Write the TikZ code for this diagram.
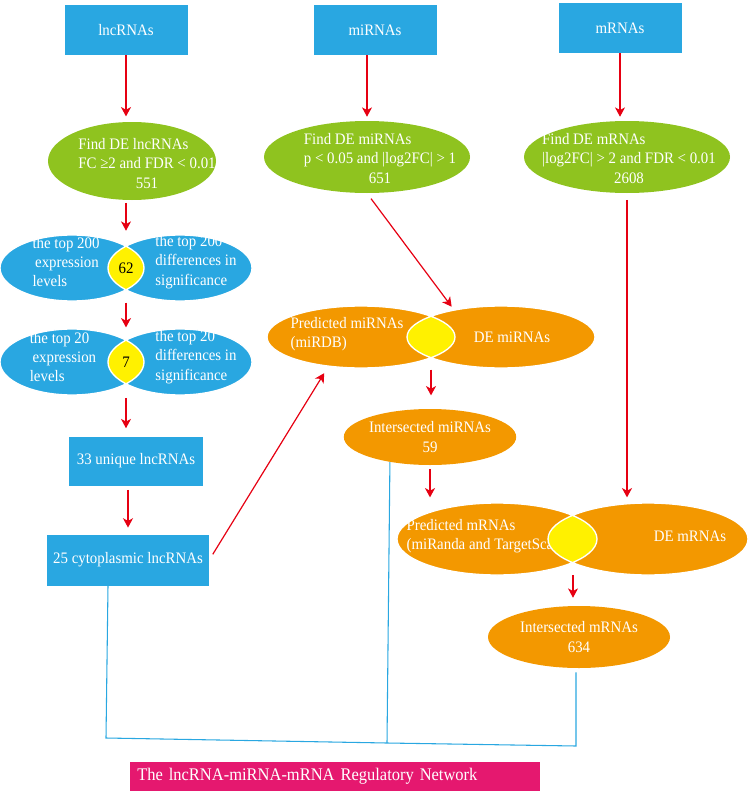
\documentclass[tikz,border=0pt]{standalone}
\usepackage{fontspec}
\setmainfont{Liberation Serif}[FakeStretch=0.93]
\usetikzlibrary{shapes.geometric,arrows.meta}

\definecolor{boxblue}{RGB}{41,167,225}
\definecolor{leafgreen}{RGB}{143,195,31}
\definecolor{venorange}{RGB}{243,152,0}
\definecolor{lensyel}{RGB}{255,241,0}
\definecolor{netpink}{RGB}{229,24,111}
\definecolor{arrowred}{RGB}{230,0,18}

\tikzset{
  every node/.style={font=\fontsize{12}{14.5}\selectfont},
  srcbox/.style={rectangle, fill=boxblue, text=white, minimum width=92.25pt, minimum height=37.5pt, inner sep=0pt},
  findell/.style={ellipse, fill=leafgreen, minimum width=154.5pt, minimum height=54pt, inner sep=0pt},
  wtext/.style={text=white, inner sep=0pt, align=left},
  halfblue/.style={ellipse, fill=boxblue, minimum width=108pt, minimum height=49.5pt, inner sep=0pt},
  halforange/.style={ellipse, fill=venorange, inner sep=0pt},
  arr/.style={draw=arrowred, line width=0.9pt, -{Stealth[length=7pt,width=7.5pt,inset=2pt]}},
  netline/.style={draw=boxblue, line width=0.8pt},
}

\begin{document}
\begin{tikzpicture}[x=0.75pt,y=-0.75pt]
    \useasboundingbox (0,0) rectangle (750,792);

    % sources
    \node[srcbox] (lnc) at (126,30) {lncRNAs};
    \node[srcbox] (mir) at (375,30) {miRNAs};
    \node[srcbox] (mrna) at (620,28) {mRNAs};

    % DE filters
    \node[findell, minimum width=126pt, minimum height=58.5pt] (flnc) at (132,161) {};
    \node[wtext] (tflnc) at (147,165) {\begin{tabular}{@{}l@{}}Find DE lncRNAs\\FC ≥2 and FDR < 0.01\\\multicolumn{1}{@{}c@{}}{551}\end{tabular}};
    \node[findell] (fmir) at (367,157) {};
    \node[wtext] (tfmir) at (380,160) {\begin{tabular}{@{}l@{}}Find DE miRNAs\\p < 0.05 and |log2FC| > 1\\\multicolumn{1}{@{}c@{}}{651}\end{tabular}};
    \node[findell] (fmrna) at (627,157) {};
    \node[wtext] (tfmrna) at (629,160) {\begin{tabular}{@{}l@{}}Find DE mRNAs\\|log2FC| > 2 and FDR < 0.01\\\multicolumn{1}{@{}c@{}}{2608}\end{tabular}};

    % top 200 venn
    \node[halfblue] (v1l) at (72,268) {};
    \node[halfblue] (v1r) at (180,268) {};
    \begin{scope}
      \clip (v1l.center) ellipse [x radius=54pt, y radius=24.75pt];
      \fill[lensyel] (v1r.center) ellipse [x radius=54pt, y radius=24.75pt];
    \end{scope}
    \draw[white, line width=1pt] (v1l.center) ellipse [x radius=54pt, y radius=24.75pt]
      (v1r.center) ellipse [x radius=54pt, y radius=24.75pt];
    \node[wtext] (t1l) at (66,262) {the top 200\\\hspace{2pt}expression\\levels};
    \node[wtext] (t1r) at (196,262) {the top 200\\differences in\\significance};
    \node[inner sep=0pt] (lens1) at (126,268) {62};

    % top 20 venn
    \node[halfblue] (v2l) at (72,362) {};
    \node[halfblue] (v2r) at (180,362) {};
    \begin{scope}
      \clip (v2l.center) ellipse [x radius=54pt, y radius=24.75pt];
      \fill[lensyel] (v2r.center) ellipse [x radius=54pt, y radius=24.75pt];
    \end{scope}
    \draw[white, line width=1pt] (v2l.center) ellipse [x radius=54pt, y radius=24.75pt]
      (v2r.center) ellipse [x radius=54pt, y radius=24.75pt];
    \node[wtext] (t2l) at (63,357) {the top 20\\\hspace{2pt}expression\\levels};
    \node[wtext] (t2r) at (196,357) {the top 20\\differences in\\significance};
    \node[inner sep=0pt] (lens2) at (126,362) {7};

    \node[srcbox, minimum width=100.5pt, minimum height=36.75pt] (uniq) at (136,461) {33 unique lncRNAs};
    \node[srcbox, minimum width=121.5pt, minimum height=38.25pt] (cyto) at (128,560) {25 cytoplasmic lncRNAs};

    % miRNA venn
    \node[halforange, minimum width=141pt, minimum height=46.5pt] (pml) at (361,337) {};
    \node[halforange, minimum width=141pt, minimum height=46.5pt] (dem) at (501,337) {};
    \begin{scope}
      \clip (pml.center) ellipse [x radius=70.5pt, y radius=23.25pt];
      \fill[lensyel] (dem.center) ellipse [x radius=70.5pt, y radius=23.25pt];
    \end{scope}
    \draw[white, line width=1pt] (pml.center) ellipse [x radius=70.5pt, y radius=23.25pt]
      (dem.center) ellipse [x radius=70.5pt, y radius=23.25pt];
    \node[wtext] (tpml) at (347,334) {Predicted miRNAs\\(miRDB)};
    \node[wtext] (tdem) at (512,337) {DE miRNAs};
    \coordinate (lensm) at (431,337);

    \node[halforange, minimum width=117pt, minimum height=42pt, text=white, align=center] (imir) at (430,437) {Intersected miRNAs\\59};

    % mRNA venn
    \node[halforange, minimum width=150pt, minimum height=54pt] (pmr) at (497,539) {};
    \node[halforange, minimum width=150pt, minimum height=54pt] (dmr) at (648,539) {};
    \node[wtext] (tpmr) at (488,536) {Predicted mRNAs\\(miRanda and TargetScan )};
    \begin{scope}
      \clip (pmr.center) ellipse [x radius=75pt, y radius=27pt];
      \fill[lensyel] (dmr.center) ellipse [x radius=75pt, y radius=27pt];
    \end{scope}
    \draw[white, line width=1pt] (pmr.center) ellipse [x radius=75pt, y radius=27pt]
      (dmr.center) ellipse [x radius=75pt, y radius=27pt];
    \node[wtext] (tdmr) at (690,536) {DE mRNAs};
    \coordinate (lensr) at (573,539);

    \node[halforange, minimum width=136.5pt, minimum height=46.5pt, text=white, align=center] (imr) at (579,637) {Intersected mRNAs\\634};

    \node[rectangle, fill=netpink, text=white, anchor=west, minimum height=21.75pt, text width=297pt, inner xsep=5.25pt, inner ysep=0pt, align=left, font=\fontsize{13.3}{15}\selectfont] (net) at (130,776) {The lncRNA-miRNA-mRNA Regulatory Network};

    % red arrows
    \draw[arr, shorten >=4pt] (lnc.south) -- (lnc.south |- flnc.north);
    \draw[arr, shorten >=3pt] (mir.south -| fmir.north) -- (fmir.north);
    \draw[arr, shorten >=3pt] (mrna.south) -- (mrna.south |- fmrna.north);
    \draw[arr, shorten <=2pt, shorten >=3pt] (lens1 |- flnc.south) -- (lens1 |- v1l.north);
    \draw[arr, shorten <=1pt, shorten >=1pt] (lens1 |- v1l.south) -- (lens1 |- v2l.north);
    \draw[arr, shorten <=2pt, shorten >=6pt] (lens2 |- v2l.south) -- (lens2 |- uniq.north);
    \draw[arr, shorten <=3pt, shorten >=5pt] (cyto.north |- uniq.south) -- (cyto.north);
    \draw[arr, shorten <=5pt, shorten >=6pt] (cyto.east) -- (pml.222);
    \draw[arr, shorten <=5pt, shorten >=3pt] (fmir.south) -- (dem.150);
    \draw[arr, shorten <=1pt, shorten >=10pt] (lensm |- pml.south) -- (lensm |- imir.north);
    \draw[arr, shorten <=3pt, shorten >=4pt] (imir.south) -- (imir.south |- pmr.north);
    \draw[arr, shorten <=5pt, shorten >=4pt] (fmrna.south) -- (fmrna.south |- dmr.north);
    \draw[arr, shorten <=0pt, shorten >=6pt] (lensr |- pmr.south) -- (lensr |- imr.north);

    % network lines
    \coordinate (j1) at (106,738);
    \coordinate (j2) at (387,743);
    \coordinate (j3) at (576,746);
    \draw[netline] (cyto.south -| 108,0) -- (j1) -- (j2) -- (j3) -- ([yshift=-3pt]j3 |- imr.south);
    \draw[netline] (imir.212) -- (j2);
\end{tikzpicture}
\end{document}
